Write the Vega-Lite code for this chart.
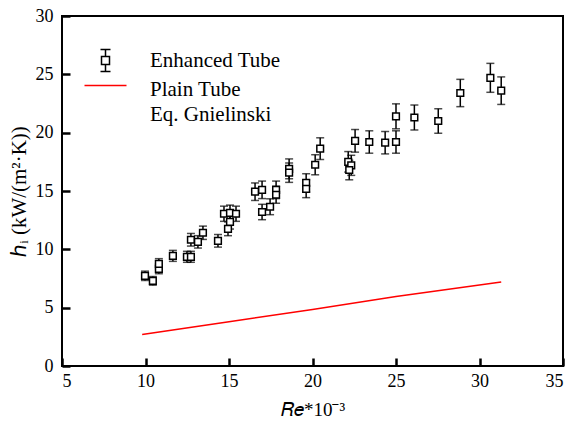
{
  "$schema": "https://vega.github.io/schema/vega-lite/v6.json",
  "width": 501,
  "height": 350,
  "autosize": {"type": "none"},
  "padding": {"left": 62, "top": 16, "right": 8, "bottom": 58},
  "background": "white",
  "config": {
    "view": {"stroke": "black", "strokeWidth": 2},
    "font": "Liberation Serif",
    "axis": {"ticks": true, "tickColor": "#000000", "tickOpacity": 1, "tickSize": 8, "tickWidth": 2.5}
  },
  "datasets": {
    "enhanced": [
      {"series": "Enhanced Tube", "re": 9.97, "h": 7.73, "err": 0.4},
      {"series": "Enhanced Tube", "re": 10.44, "h": 7.3, "err": 0.37},
      {"series": "Enhanced Tube", "re": 10.8, "h": 8.33, "err": 0.42},
      {"series": "Enhanced Tube", "re": 10.8, "h": 8.76, "err": 0.44},
      {"series": "Enhanced Tube", "re": 11.64, "h": 9.44, "err": 0.47},
      {"series": "Enhanced Tube", "re": 12.48, "h": 9.36, "err": 0.47},
      {"series": "Enhanced Tube", "re": 12.72, "h": 9.36, "err": 0.47},
      {"series": "Enhanced Tube", "re": 12.72, "h": 10.82, "err": 0.54},
      {"series": "Enhanced Tube", "re": 13.14, "h": 10.64, "err": 0.53},
      {"series": "Enhanced Tube", "re": 13.44, "h": 11.42, "err": 0.57},
      {"series": "Enhanced Tube", "re": 14.34, "h": 10.73, "err": 0.54},
      {"series": "Enhanced Tube", "re": 14.7, "h": 13.05, "err": 0.65},
      {"series": "Enhanced Tube", "re": 15.06, "h": 13.13, "err": 0.66},
      {"series": "Enhanced Tube", "re": 15.42, "h": 13.05, "err": 0.65},
      {"series": "Enhanced Tube", "re": 14.94, "h": 11.76, "err": 0.59},
      {"series": "Enhanced Tube", "re": 15.06, "h": 12.36, "err": 0.62},
      {"series": "Enhanced Tube", "re": 16.56, "h": 14.94, "err": 0.75},
      {"series": "Enhanced Tube", "re": 16.98, "h": 15.1, "err": 0.75},
      {"series": "Enhanced Tube", "re": 16.98, "h": 13.2, "err": 0.66},
      {"series": "Enhanced Tube", "re": 17.46, "h": 13.65, "err": 0.68},
      {"series": "Enhanced Tube", "re": 17.82, "h": 15.1, "err": 0.75},
      {"series": "Enhanced Tube", "re": 17.82, "h": 14.68, "err": 0.73},
      {"series": "Enhanced Tube", "re": 18.6, "h": 16.9, "err": 0.85},
      {"series": "Enhanced Tube", "re": 18.6, "h": 16.57, "err": 0.83},
      {"series": "Enhanced Tube", "re": 19.62, "h": 15.7, "err": 0.78},
      {"series": "Enhanced Tube", "re": 19.62, "h": 15.19, "err": 0.76},
      {"series": "Enhanced Tube", "re": 20.16, "h": 17.25, "err": 0.86},
      {"series": "Enhanced Tube", "re": 20.46, "h": 18.63, "err": 0.93},
      {"series": "Enhanced Tube", "re": 22.14, "h": 17.5, "err": 0.88},
      {"series": "Enhanced Tube", "re": 22.32, "h": 17.2, "err": 0.86},
      {"series": "Enhanced Tube", "re": 22.2, "h": 16.8, "err": 0.84},
      {"series": "Enhanced Tube", "re": 22.55, "h": 19.3, "err": 0.97},
      {"series": "Enhanced Tube", "re": 23.4, "h": 19.2, "err": 0.96},
      {"series": "Enhanced Tube", "re": 24.35, "h": 19.14, "err": 0.96},
      {"series": "Enhanced Tube", "re": 25.0, "h": 19.2, "err": 0.96},
      {"series": "Enhanced Tube", "re": 25.0, "h": 21.4, "err": 1.07},
      {"series": "Enhanced Tube", "re": 26.1, "h": 21.3, "err": 1.07},
      {"series": "Enhanced Tube", "re": 27.53, "h": 21.0, "err": 1.05},
      {"series": "Enhanced Tube", "re": 28.85, "h": 23.4, "err": 1.17},
      {"series": "Enhanced Tube", "re": 30.65, "h": 24.7, "err": 1.24},
      {"series": "Enhanced Tube", "re": 31.3, "h": 23.6, "err": 1.18}
    ],
    "plain": [
      {"series": "Plain Tube", "re": 9.8, "h": 2.7},
      {"series": "Plain Tube", "re": 15.0, "h": 3.8},
      {"series": "Plain Tube", "re": 20.0, "h": 4.85},
      {"series": "Plain Tube", "re": 25.0, "h": 5.95},
      {"series": "Plain Tube", "re": 31.3, "h": 7.2}
    ]
  },
  "layer": [
    {
      "data": {"name": "plain"},
      "mark": {"type": "line", "strokeWidth": 1.5},
      "encoding": {
        "x": {
          "field": "re", "type": "quantitative",
          "scale": {"domain": [5, 35], "nice": false, "zero": false},
          "axis": {
            "values": [5, 10, 15, 20, 25, 30, 35], "title": "𝑅𝑒*10⁻³",
            "grid": false, "domain": false, "offset": -8, "zindex": 1,
            "labelFont": "Liberation Serif", "labelFontSize": 18, "labelColor": "black", "labelPadding": 6,
            "titleFont": "Liberation Serif", "titleFontSize": 19, "titleFontWeight": "normal", "titleColor": "black", "titlePadding": 10
          }
        },
        "y": {
          "field": "h", "type": "quantitative",
          "scale": {"domain": [0, 30], "nice": false},
          "axis": {
            "values": [0, 5, 10, 15, 20, 25, 30], "title": "ℎᵢ  (kW/(m²·K))",
            "grid": false, "domain": false, "offset": -8, "zindex": 1,
            "labelFont": "Liberation Serif", "labelFontSize": 18, "labelColor": "black", "labelPadding": 9,
            "titleFont": "Liberation Serif", "titleFontSize": 21, "titleFontWeight": "normal", "titleColor": "black", "titlePadding": 6
          }
        },
        "stroke": {
          "field": "series", "type": "nominal",
          "scale": {"domain": ["Enhanced Tube", "Plain Tube"], "range": ["black", "red"]},
          "legend": {
            "title": null,
            "orient": "none",
            "legendX": 33,
            "legendY": 34,
            "symbolType": "M-4.2,0H4.2",
            "symbolSize": 100,
            "symbolStrokeWidth": 1.5,
            "labelFont": "Liberation Serif",
            "labelFontSize": 21,
            "labelColor": "black",
            "labelOffset": 34,
            "rowPadding": 0,
            "labelExpr": "datum.label == 'Plain Tube' ? ['Plain Tube', 'Eq. Gnielinski'] : datum.label",
            "encode": {
              "symbols": {
                "update": {
                  "shape": {"signal": "datum.label == 'Plain Tube' ? 'M-4.2,0H4.2' : 'M-1,-2.2H1M0,-2.2V-0.8M-0.8,-0.8H0.8V0.8H-0.8ZM0,0.8V2.2M-1,2.2H1'"}
                }
              },
              "labels": {
                "update": {
                  "lineHeight": {"value": 25},
                  "dy": {"signal": "datum.label == 'Plain Tube' ? 4 : 0"}
                }
              }
            }
          }
        }
      }
    },
    {
      "data": {"name": "enhanced"},
      "mark": {"type": "errorbar", "ticks": {"size": 8, "thickness": 1.5}, "color": "black", "rule": {"strokeWidth": 1.5}},
      "encoding": {
        "x": {"field": "re", "type": "quantitative", "title": "𝑅𝑒*10⁻³"},
        "y": {"field": "h", "type": "quantitative", "title": "ℎᵢ  (kW/(m²·K))"},
        "yError": {"field": "err"}
      }
    },
    {
      "data": {"name": "enhanced"},
      "mark": {"type": "point", "shape": "square", "filled": true, "fill": "white", "stroke": "black", "strokeWidth": 1.5, "size": 45, "opacity": 1},
      "encoding": {
        "x": {"field": "re", "type": "quantitative", "title": "𝑅𝑒*10⁻³"},
        "y": {"field": "h", "type": "quantitative", "title": "ℎᵢ  (kW/(m²·K))"}
      }
    }
  ]
}
